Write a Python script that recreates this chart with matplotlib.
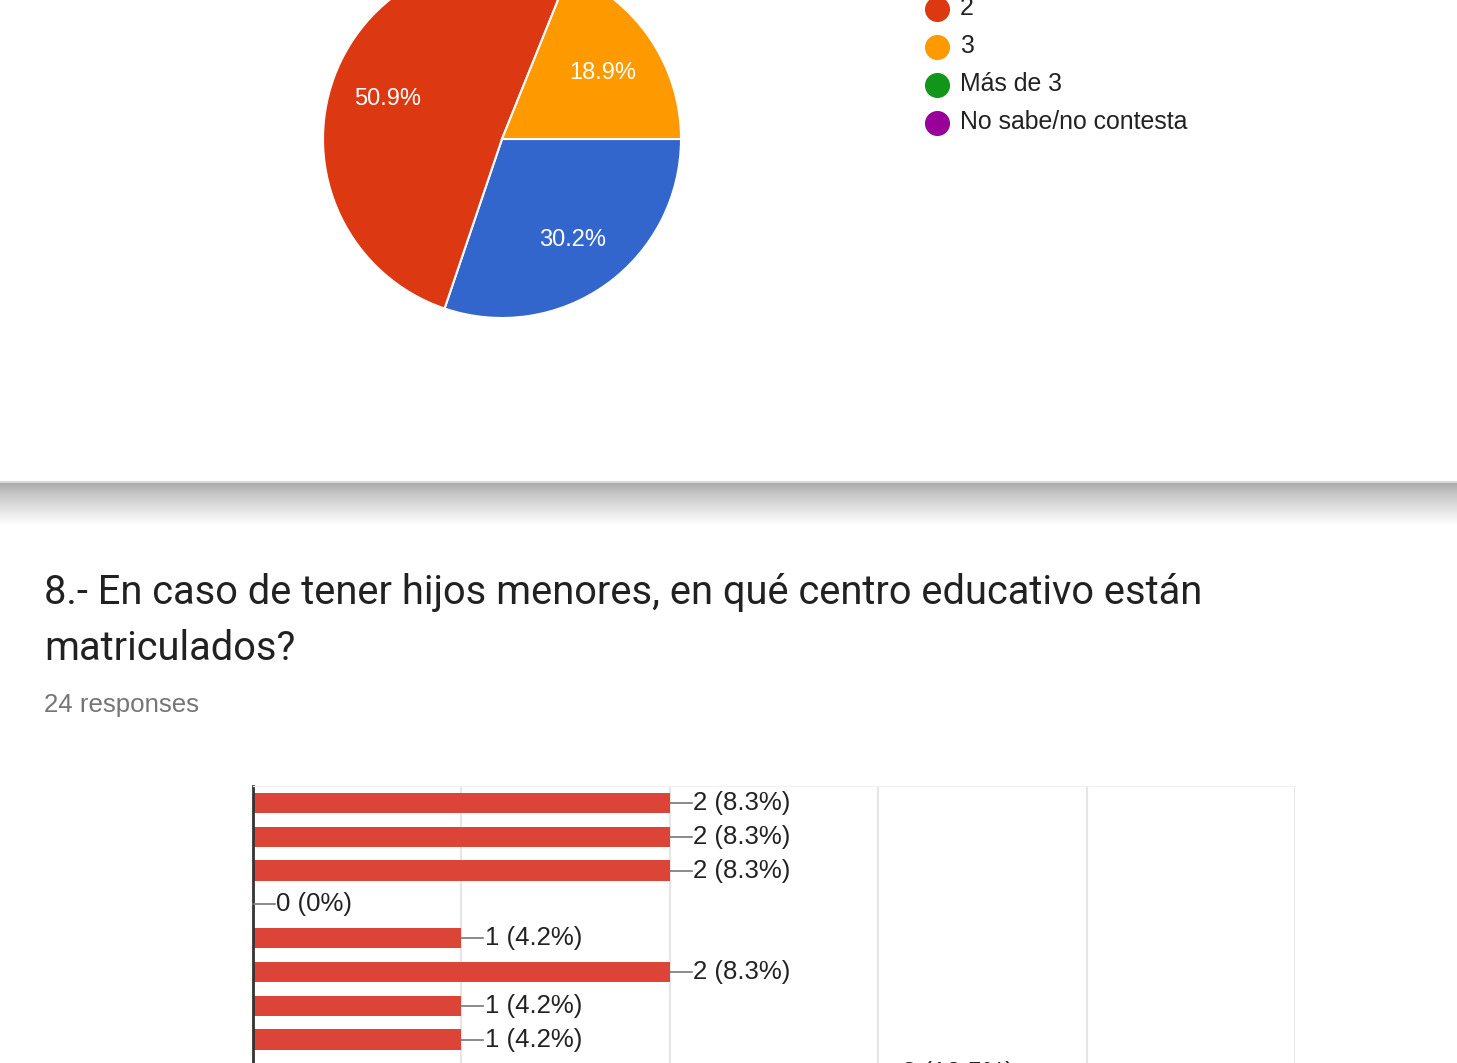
import matplotlib.pyplot as plt
import numpy as np

# Pie data (question 7, partially visible)
pie_labels = ['1', '2', '3', 'Más de 3', 'No sabe/no contesta']
pie_values = [30.2, 50.9, 18.9, 0, 0]
pie_colors = ['#3366cc', '#dc3912', '#ff9900', '#109618', '#990099']

# Bar data (question 8)
bar_counts = [2, 2, 2, 0, 1, 2, 1, 1, 3]
bar_pcts = ['8.3%', '8.3%', '8.3%', '0%', '4.2%', '8.3%', '4.2%', '4.2%', '12.5%']
total_responses = 24

title_lines = ['8.- En caso de tener hijos menores, en qué centro educativo están',
               'matriculados?']

W, H = 1457, 1063
fig = plt.figure(figsize=(W / 100, H / 100), dpi=100)
fig.patch.set_facecolor('white')


def px_rect(left, top, w, h):
    return [left / W, 1 - (top + h) / H, w / W, h / H]


# Overlay in pixel coordinates for page elements
ov = fig.add_axes([0, 0, 1, 1], zorder=0)
ov.set_xlim(0, W)
ov.set_ylim(H, 0)
ov.axis('off')

# card shadow separator
grad = np.linspace(0, 1, 60) ** 0.8
shade = 0.66 + 0.34 * grad
img = np.repeat(shade[:, None], 2, axis=1)
ov.imshow(img, cmap='gray', vmin=0, vmax=1, extent=(0, W, 526, 483), aspect='auto')
ov.plot([0, W], [482, 482], color='#d9d9d9', lw=1.5)

# pie
r = 179
ax_pie = fig.add_axes(px_rect(502 - r, 139 - r, 2 * r, 2 * r), zorder=2)
nz = [(v, c) for v, c in zip(pie_values, pie_colors) if v > 0]
wedges, texts, autotexts = ax_pie.pie(
    [v for v, _ in nz], colors=[c for _, c in nz], startangle=0, counterclock=False,
    autopct='%.1f%%', pctdistance=0.68, radius=1,
    wedgeprops=dict(edgecolor='white', linewidth=1.5),
    textprops=dict(color='white', fontsize=17, family='Liberation Sans'))
for t in autotexts:
    t.set_va('center_baseline')
ax_pie.set_xlim(-1, 1)
ax_pie.set_ylim(-1, 1)
ax_pie.set_aspect('equal')

# legend
for i, (lab, col) in enumerate(zip(pie_labels, pie_colors)):
    y = -30 + i * 38
    ov.scatter([937], [y + 1], s=290, color=col, zorder=3)
    ov.text(960, y, lab, fontsize=17.9, family='Liberation Sans', color='#222222',
            va='center', ha='left')

# title and response count
for i, line in enumerate(title_lines):
    ov.text(44, 593 + i * 55, line, fontsize=28.7, family='Roboto', color='#212121',
            va='center', ha='left')
ov.text(44, 705, f'{total_responses} responses', fontsize=18.6, family='Liberation Sans',
        color='#757575', va='center', ha='left')

# bar chart
n = len(bar_counts)
ax = fig.add_axes(px_rect(253, 786, 1042, n * 33.8), zorder=2)
ypos = np.arange(n)
ax.barh(ypos, bar_counts, height=0.6, color='#db4437', zorder=2)
for y, c, p in zip(ypos, bar_counts, bar_pcts):
    ax.plot([c, c + 0.105], [y, y], color='#777777', lw=1.2, zorder=3, clip_on=False)
    ax.text(c + 0.112, y, f'{c} ({p})', fontsize=18.5, family='Liberation Sans',
            color='#222222', va='center', ha='left')
ax.set_xlim(0, 5)
ax.set_ylim(n - 0.5, -0.5)
ax.set_xticks(range(0, 6))
ax.set_yticks([])
ax.tick_params(axis='x', length=0, labelbottom=False)
ax.grid(axis='x', color='#e6e6e6', lw=1.5, zorder=0)
for s in ['right', 'bottom']:
    ax.spines[s].set_visible(False)
ax.spines['top'].set_color('#f2f2f2')
ax.spines['left'].set_color('#333333')
ax.spines['left'].set_linewidth(2)

fig.savefig('out.png', dpi=100)
